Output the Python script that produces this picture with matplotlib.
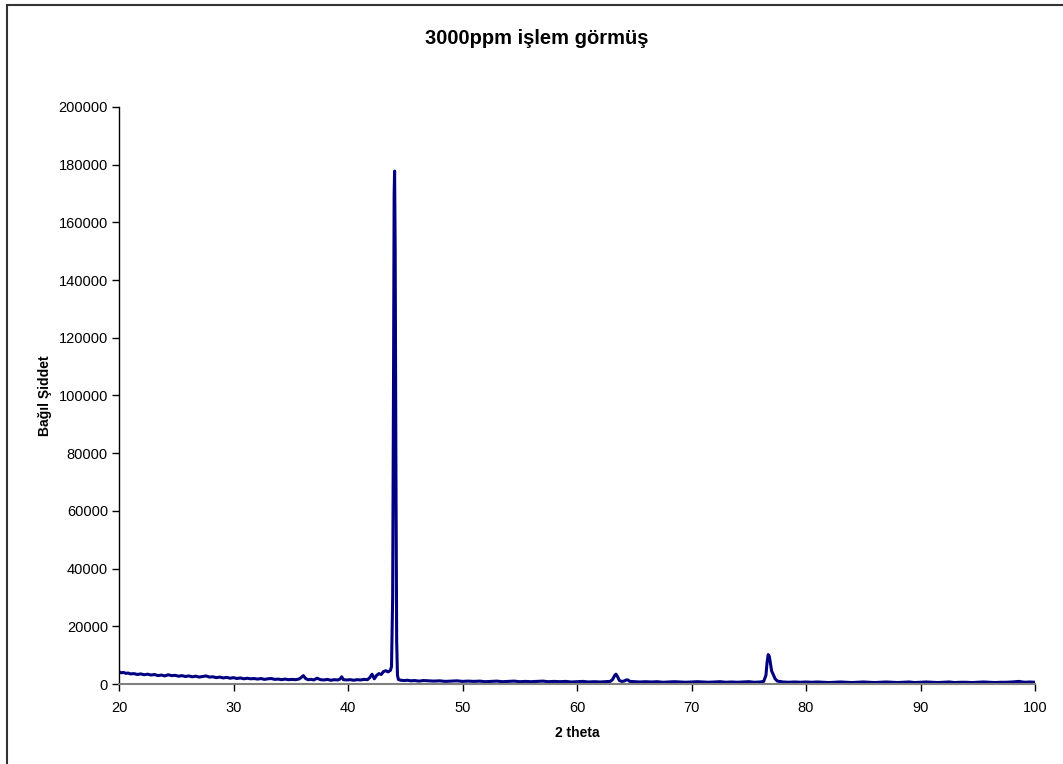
import matplotlib
matplotlib.use("Agg")
import matplotlib.pyplot as plt
from matplotlib.patches import Rectangle

plt.rcParams["font.family"] = ["Liberation Sans", "DejaVu Sans"]

# 2 theta / bağıl şiddet (okunan değerler)
two_theta = [
    20.0, 20.2, 20.4, 20.6, 20.8, 21.0, 21.3, 21.6, 21.9, 22.2, 22.5, 22.8,
    23.1, 23.4, 23.7, 24.0, 24.3, 24.6, 24.9, 25.2, 25.5, 25.8, 26.1, 26.4,
    26.7, 27.0, 27.3, 27.6, 27.9, 28.2, 28.5, 28.8, 29.1, 29.4, 29.7, 30.0,
    30.3, 30.6, 30.9, 31.2, 31.5, 31.8, 32.1, 32.4, 32.7, 33.0, 33.3, 33.6,
    33.9, 34.2, 34.5, 34.8, 35.1, 35.4, 35.7, 35.9, 36.1, 36.3, 36.5, 36.8,
    37.0, 37.3, 37.6, 37.9, 38.2, 38.5, 38.8, 39.1, 39.3, 39.45, 39.6, 39.9,
    40.2, 40.5, 40.8, 41.1, 41.4, 41.7, 41.9, 42.1, 42.3, 42.5, 42.7, 42.9,
    43.1, 43.3, 43.5, 43.7, 43.8, 43.9, 43.98, 44.03, 44.07, 44.12, 44.18,
    44.25, 44.32, 44.4, 44.6, 44.9, 45.2, 45.5, 45.8, 46.2, 46.6, 47.0, 47.5,
    48.0, 48.5, 49.0, 49.5, 50.0, 50.5, 51.0, 51.5, 52.0, 52.5, 53.0, 53.5,
    54.0, 54.5, 55.0, 55.5, 56.0, 56.5, 57.0, 57.5, 58.0, 58.5, 59.0, 59.5,
    60.0, 60.5, 61.0, 61.5, 62.0, 62.5, 62.9, 63.1, 63.3, 63.4, 63.55, 63.7,
    63.9, 64.1, 64.3, 64.45, 64.6, 65.0, 65.5, 66.0, 66.5, 67.0, 67.5, 68.0,
    68.5, 69.0, 69.5, 70.0, 70.5, 71.0, 71.5, 72.0, 72.5, 73.0, 73.5, 74.0,
    74.5, 75.0, 75.5, 76.0, 76.3, 76.5, 76.6, 76.7, 76.8, 76.9, 77.0, 77.15,
    77.3, 77.5, 77.8, 78.0, 78.5, 79.0, 79.5, 80.0, 80.5, 81.0, 81.5, 82.0,
    82.5, 83.0, 83.5, 84.0, 84.5, 85.0, 85.5, 86.0, 86.5, 87.0, 87.5, 88.0,
    88.5, 89.0, 89.5, 90.0, 90.5, 91.0, 91.5, 92.0, 92.5, 93.0, 93.5, 94.0,
    94.5, 95.0, 95.5, 96.0, 96.5, 97.0, 97.5, 98.0, 98.3, 98.6, 98.9, 99.2,
    99.5, 100.0,
]
intensity = [
    4200, 3900, 4000, 3700, 3800, 3500, 3600, 3300, 3500, 3200, 3400, 3100,
    3300, 2900, 3100, 2800, 3200, 2900, 3000, 2700, 2900, 2600, 2800, 2500,
    2700, 2400, 2600, 2800, 2400, 2500, 2200, 2400, 2100, 2300, 2000, 2200,
    1900, 2100, 1800, 2000, 1800, 1900, 1700, 1900, 1600, 1800, 1900, 1600,
    1700, 1500, 1700, 1500, 1600, 1500, 1700, 2200, 2900, 1900, 1500, 1600,
    1400, 2000, 1500, 1400, 1600, 1300, 1500, 1400, 1700, 2500, 1500, 1400,
    1500, 1300, 1500, 1400, 1600, 1500, 2200, 3400, 1800, 3000, 3600, 3300,
    4300, 4600, 4200, 4700, 6000, 30000, 110000, 170000, 177800, 150000, 80000,
    15000, 3000, 1600, 1300, 1200, 1300, 1100, 1200, 1000, 1200, 1100, 1000,
    1100, 900, 1000, 1100, 900, 1000, 900, 1000, 800, 900, 1000, 800,
    900, 1000, 800, 900, 800, 900, 1000, 800, 900, 800, 900, 700,
    800, 900, 700, 800, 700, 800, 900, 1500, 3000, 3400, 2500, 1200,
    900, 1000, 1400, 1400, 900, 800, 700, 800, 700, 800, 600, 700,
    800, 700, 600, 700, 800, 700, 600, 700, 800, 600, 700, 600,
    700, 800, 600, 700, 900, 3000, 7500, 10200, 9500, 7000, 4500, 3200,
    1800, 1000, 800, 700, 600, 700, 600, 700, 600, 700, 600, 500,
    600, 700, 600, 500, 600, 700, 600, 500, 600, 700, 600, 500,
    600, 700, 500, 600, 700, 600, 500, 600, 700, 500, 600, 600,
    500, 600, 700, 600, 500, 600, 600, 700, 800, 900, 700, 600,
    700, 600,
]

fig = plt.figure(figsize=(10.63, 7.64), dpi=100)
fig.patch.set_facecolor("white")

# dış çerçeve (Excel grafik alanı; sağ ve alt kenar resmin dışında kalıyor)
fig.add_artist(Rectangle((7 / 1063, -10 / 764), 1070 / 1063, 769 / 764,
                         transform=fig.transFigure, fill=False,
                         edgecolor="#333333", linewidth=1.5))

ax = fig.add_axes([119 / 1063, 80 / 764, 916 / 1063, 577 / 764])
ax.plot(two_theta, intensity, color="#000080", lw=2.2, solid_joinstyle="round")

ax.set_xlim(20, 100)
ax.set_ylim(0, 200000)
ax.set_xticks(range(20, 101, 10))
ax.set_yticks(range(0, 200001, 20000))
ax.tick_params(labelsize=10.5, length=5, width=1, colors="black")
ax.tick_params(axis="x", pad=7)
ax.tick_params(axis="y", pad=3)

ax.spines["top"].set_visible(False)
ax.spines["right"].set_visible(False)
ax.spines["left"].set_color("black")
ax.spines["bottom"].set_color("#808080")
ax.spines["left"].set_linewidth(1)
ax.spines["bottom"].set_linewidth(1.5)

ax.set_xlabel("2 theta", fontsize=10, fontweight="bold", labelpad=8)
ax.set_ylabel("Bağıl Şiddet", fontsize=10, fontweight="bold", labelpad=5)
fig.text(537 / 1063, 1 - 39 / 764, "3000ppm işlem görmüş",
         ha="center", va="center", fontsize=14.5, fontweight="bold")

fig.savefig("out.png", dpi=100, facecolor="white")
